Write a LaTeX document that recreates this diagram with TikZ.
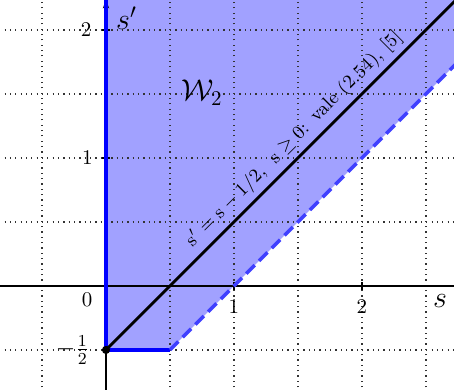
\documentclass[tikz,border=0pt]{standalone}
\usetikzlibrary{arrows.meta}
\begin{document}
\begin{tikzpicture}[x=2.15cm,y=2.15cm,
  gridline/.style={black!80,dotted,line width=0.55pt},
  axisline/.style={black,line width=0.65pt},
  region/.style={fill=blue!37},
  edgeline/.style={blue,line width=1.7pt},
  dashline/.style={blue!75,line width=1.7pt,dash pattern=on 5.7pt off 2.9pt},
  mainline/.style={black,line width=1.35pt},
  ticklab/.style={font=\normalsize,inner sep=1pt}]
\useasboundingbox (-0.828,-0.8125) rectangle (2.719,2.234);
\clip (-0.828,-0.8125) rectangle (2.719,2.234);
\coordinate (P0) at (0,-0.5);
\coordinate (P1) at (0.5,-0.5);
\coordinate (P2) at (3.2,2.2);
\coordinate (P3) at (3.2,2.4);
\coordinate (P4) at (0,2.4);
\coordinate (Q) at (3,2.5);
\fill[region] (P0) -- (P1) -- (P2) -- (P3) -- (P4) -- cycle;
\draw[gridline] (-1,-1) grid[step=0.5] (3,2.5);
\draw[axisline] (-1,0) -- (3,0);
\coordinate (Ybot) at (0,-1);
\coordinate (Ytop) at (0,2.234);
\draw[axisline,-{Stealth[length=4pt]}] (Ybot) -- (Ytop);
\foreach \v in {1,2} {
  \draw[axisline] (\v,-0.03) -- (\v,0.03);
  \draw[axisline] (-0.03,\v) -- (0.03,\v);
}
\draw[edgeline] (P4) -- (P0) -- (P1);
\draw[dashline] (P1) -- (P2);
\draw[mainline] (P0) -- (Q);
\fill (P0) circle (0.032);
\node[ticklab] (x1) at (1,-0.164) {1};
\node[ticklab] (x2) at (2,-0.164) {2};
\node[ticklab] (o) at (-0.148,-0.11) {0};
\node[ticklab] (y1) at (-0.145,1) {1};
\node[ticklab] (y2) at (-0.156,2) {2};
\node[ticklab,anchor=east,font=\large] (yh) at (-0.11,-0.5) {$-\frac{1}{2}$};
\node[font=\Large] (s) at (2.61,-0.12) {$s$};
\node[font=\Large] (sp) at (0.16,2.09) {$s'$};
\node[font=\Large] (W) at (0.75,1.51) {$\mathcal{W}_2$};
\node[rotate=45,anchor=south,font=\small,inner xsep=2pt,inner ysep=3pt] (lab) at (1.56,1.06)
  {$\mathrm{s}' = \mathrm{s} - 1/2,\enspace \mathrm{s}\geq 0$:\ \,vale (2.54), [5]};
\end{tikzpicture}
\end{document}
